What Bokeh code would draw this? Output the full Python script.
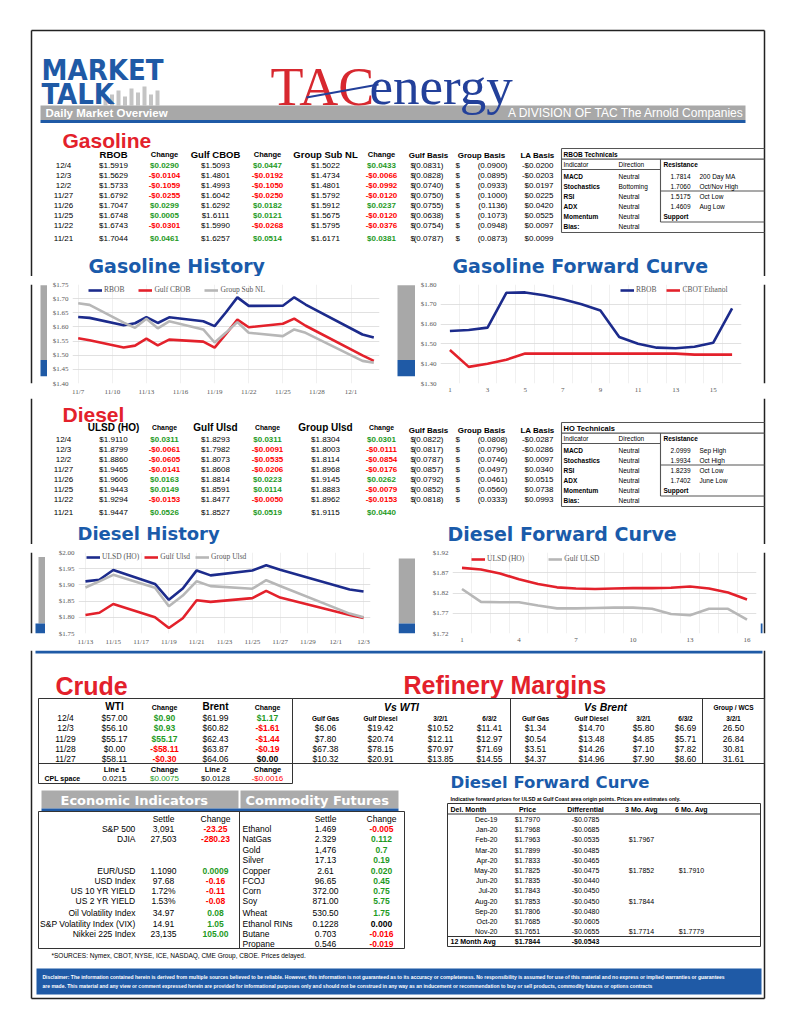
import numpy as np
import pandas as pd
from bokeh.plotting import figure
from bokeh.models import Range1d, ColumnDataSource, FixedTicker, NumeralTickFormatter
from bokeh.layouts import column, row
from bokeh.embed import file_html
from bokeh.resources import INLINE
from bokeh.core.properties import value

# ======================= DATA =======================
YEAR = 2019
GAS_DATES = ["12/4", "12/3", "12/2", "11/27", "11/26", "11/25", "11/22", "11/21"]
RBOB = [1.5919, 1.5629, 1.5733, 1.6792, 1.7047, 1.6748, 1.6743, 1.7044]
RBOB_CHG = [0.0290, -0.0104, -0.1059, -0.0255, 0.0299, 0.0005, -0.0301, 0.0461]
GULF_CBOB = [1.5093, 1.4801, 1.4993, 1.6042, 1.6292, 1.6111, 1.5990, 1.6257]
GULF_CBOB_CHG = [0.0447, -0.0192, -0.1050, -0.0250, 0.0182, 0.0121, -0.0268, 0.0514]
GROUP_SUB = [1.5022, 1.4734, 1.4801, 1.5792, 1.5912, 1.5675, 1.5795, 1.6171]
GROUP_SUB_CHG = [0.0433, -0.0066, -0.0992, -0.0120, 0.0237, -0.0120, -0.0376, 0.0381]
GAS_GULF_BASIS = [-0.0831, -0.0828, -0.0740, -0.0750, -0.0755, -0.0638, -0.0754, -0.0787]
GAS_GROUP_BASIS = [-0.0900, -0.0895, -0.0933, -0.1000, -0.1136, -0.1073, -0.0948, -0.0873]
GAS_LA_BASIS = [-0.0200, -0.0203, 0.0197, 0.0225, 0.0420, 0.0525, 0.0097, 0.0099]
GAS_HEADERS = ["RBOB", "Change", "Gulf CBOB", "Change", "Group Sub NL", "Change"]

DSL_DATES = ["12/4", "12/3", "12/2", "11/27", "11/26", "11/25", "11/22", "11/21"]
ULSD = [1.9110, 1.8799, 1.8860, 1.9465, 1.9606, 1.9443, 1.9294, 1.9447]
ULSD_CHG = [0.0311, -0.0061, -0.0605, -0.0141, 0.0163, 0.0149, -0.0153, 0.0526]
GULF_ULSD = [1.8293, 1.7982, 1.8073, 1.8608, 1.8814, 1.8591, 1.8477, 1.8527]
GULF_ULSD_CHG = [0.0311, -0.0091, -0.0535, -0.0206, 0.0223, 0.0114, -0.0050, 0.0519]
GROUP_ULSD = [1.8304, 1.8003, 1.8114, 1.8968, 1.9145, 1.8883, 1.8962, 1.9115]
GROUP_ULSD_CHG = [0.0301, -0.0111, -0.0854, -0.0176, 0.0262, -0.0079, -0.0153, 0.0440]
DSL_GULF_BASIS = [-0.0822, -0.0817, -0.0787, -0.0857, -0.0792, -0.0852, -0.0818]
DSL_GROUP_BASIS = [-0.0808, -0.0796, -0.0746, -0.0497, -0.0461, -0.0560, -0.0333]
DSL_LA_BASIS = [-0.0287, -0.0286, 0.0097, 0.0340, 0.0515, 0.0738, 0.0993]
DSL_HEADERS = ["ULSD (HO)", "Change", "Gulf Ulsd", "Change", "Group Ulsd", "Change"]

INDICATORS = ["MACD", "Stochastics", "RSI", "ADX", "Momentum", "Bias:"]
RBOB_DIRECTIONS = ["Neutral", "Bottoming", "Neutral", "Neutral", "Neutral", "Neutral"]
RBOB_LEVELS = [1.7814, 1.7060, 1.5175, 1.4609]
RBOB_LEVEL_NAMES = ["200 Day MA", "Oct/Nov High", "Oct Low", "Aug Low"]
HO_DIRECTIONS = ["Neutral", "Neutral", "Neutral", "Neutral", "Neutral", "Neutral"]
HO_LEVELS = [2.0999, 1.9934, 1.8239, 1.7402]
HO_LEVEL_NAMES = ["Sep High", "Oct High", "Oct Low", "June Low"]

# Gasoline history
GH_DATES = ["11/7", "11/8", "11/11", "11/12", "11/13", "11/14", "11/15", "11/18", "11/19",
            "11/20", "11/21", "11/22", "11/25", "11/26", "11/27", "12/2", "12/3"]
GH_RBOB = [1.635, 1.632, 1.606, 1.613, 1.635, 1.614, 1.634, 1.620, 1.603,
           1.652, 1.7044, 1.6743, 1.6748, 1.7047, 1.6792, 1.5733, 1.5629]
GH_CBOB = [1.560, 1.553, 1.527, 1.534, 1.559, 1.535, 1.555, 1.548, 1.527,
           1.575, 1.6257, 1.5990, 1.6111, 1.6292, 1.6042, 1.4993, 1.4801]
GH_SUBNL = [1.684, 1.678, 1.615, 1.597, 1.629, 1.595, 1.620, 1.591, 1.545,
            1.580, 1.6171, 1.5795, 1.5675, 1.5912, 1.5792, 1.4801, 1.4734]
GH_TICKS = ["11/7", "11/10", "11/13", "11/16", "11/19", "11/22", "11/25", "11/28", "12/1"]
GH_YTICKS = [1.40, 1.45, 1.50, 1.55, 1.60, 1.65, 1.70, 1.75]

# Gasoline forward curve
GF_MONTHS = list(range(1, 17))
GF_RBOB = [1.565, 1.570, 1.582, 1.758, 1.760, 1.746, 1.725, 1.700, 1.669, 1.535, 1.501,
           1.481, 1.478, 1.486, 1.506, 1.679]
GF_ETHANOL = [1.469, 1.384, 1.400, 1.420, 1.451, 1.451, 1.451, 1.451, 1.451, 1.451, 1.451,
              1.451, 1.451, 1.446, 1.446, 1.446]
GF_XTICKS = [1, 3, 5, 7, 9, 11, 13, 15]
GF_YTICKS = [1.30, 1.40, 1.50, 1.60, 1.70, 1.80]

# Diesel history
DH_DATES = ["11/13", "11/14", "11/15", "11/18", "11/19", "11/20", "11/21", "11/22",
            "11/25", "11/26", "11/27", "12/2", "12/3"]
DH_ULSD = [1.911, 1.916, 1.946, 1.903, 1.854, 1.889, 1.9447, 1.9294, 1.9443, 1.9606, 1.9465, 1.8860, 1.8799]
DH_GULF = [1.807, 1.814, 1.841, 1.800, 1.767, 1.797, 1.8527, 1.8477, 1.8591, 1.8814, 1.8608, 1.8073, 1.7982]
DH_GROUP = [1.892, 1.911, 1.931, 1.891, 1.834, 1.867, 1.9115, 1.8962, 1.8883, 1.9145, 1.8968, 1.8114, 1.8003]
DH_TICKS = ["11/13", "11/15", "11/17", "11/19", "11/21", "11/23", "11/25", "11/27", "11/29", "12/1", "12/3"]
DH_YTICKS = [1.75, 1.80, 1.85, 1.90, 1.95, 2.00]

# Diesel forward curve
DF_MONTHS = list(range(1, 17))
DF_ULSD = [1.882, 1.878, 1.868, 1.854, 1.842, 1.834, 1.831, 1.830, 1.831, 1.832, 1.832,
           1.833, 1.836, 1.831, 1.821, 1.804]
DF_GULF = [1.830, 1.798, 1.797, 1.797, 1.789, 1.782, 1.782, 1.783, 1.784, 1.784, 1.781,
           1.768, 1.765, 1.781, 1.781, 1.754]
DF_XTICKS = [1, 4, 7, 10, 13, 16]
DF_YTICKS = [1.72, 1.77, 1.82, 1.87, 1.92]

# Crude
CRUDE_DATES = ["12/4", "12/3", "11/29", "11/28", "11/27"]
WTI = [57.00, 56.10, 55.17, 0.00, 58.11]
WTI_CHG = [0.90, 0.93, 55.17, -58.11, -0.30]
BRENT = [61.99, 60.82, 62.43, 63.87, 64.06]
BRENT_CHG = [1.17, -1.61, -1.44, -0.19, 0.00]
CPL_LINE1, CPL_LINE1_CHG, CPL_LINE2, CPL_LINE2_CHG = 0.0215, 0.0075, 0.0128, -0.0016

# Refinery margins
MARGIN_COLS = ["Gulf Gas", "Gulf Diesel", "3/2/1", "6/3/2"]
WTI_GULF_GAS = [6.06, 7.80, 67.38, 10.32]
WTI_GULF_DIESEL = [19.42, 20.74, 78.15, 20.91]
WTI_321 = [10.52, 12.11, 70.97, 13.85]
WTI_632 = [11.41, 12.97, 71.69, 14.55]
BRENT_GULF_GAS = [1.34, 0.54, 3.51, 4.37]
BRENT_GULF_DIESEL = [14.70, 13.48, 14.26, 14.96]
BRENT_321 = [5.80, 4.85, 7.10, 7.90]
BRENT_632 = [6.69, 5.71, 7.82, 8.60]
WCS_321 = [26.50, 26.84, 30.81, 31.61]

# Economic indicators (12 row slots, blanks are empty rows)
ECON_LABELS = ["S&P 500", "DJIA", "", "", "EUR/USD", "USD Index", "US 10 YR YIELD", "US 2 YR YIELD",
               "Oil Volatility Index", "S&P Volatility Index (VIX)", "Nikkei 225 Index", ""]
ECON_SETTLE = ["3,091", "27,503", "", "", "1.1090", "97.68", "1.72%", "1.53%", "34.97", "14.91", "23,135", ""]
ECON_CHANGE = ["-23.25", "-280.23", "", "", "0.0009", "-0.16", "-0.11", "-0.08", "0.08", "1.05", "105.00", ""]
COMM_LABELS = ["Ethanol", "NatGas", "Gold", "Silver", "Copper", "FCOJ", "Corn", "Soy", "Wheat",
               "Ethanol RINs", "Butane", "Propane"]
COMM_SETTLE = ["1.469", "2.329", "1,476", "17.13", "2.61", "96.65", "372.00", "871.00", "530.50",
               "0.1228", "0.703", "0.546"]
COMM_CHANGE = ["-0.005", "0.112", "0.7", "0.19", "0.020", "0.45", "0.75", "5.75", "1.75",
               "0.000", "-0.016", "-0.019"]

# Diesel forward curve table
DFC_MONTHS = ["Dec-19", "Jan-20", "Feb-20", "Mar-20", "Apr-20", "May-20", "Jun-20", "Jul-20",
              "Aug-20", "Sep-20", "Oct-20", "Nov-20"]
DFC_PRICE = [1.7970, 1.7968, 1.7963, 1.7899, 1.7833, 1.7825, 1.7835, 1.7843, 1.7853, 1.7806, 1.7685, 1.7651]
DFC_DIFF = [-0.0785, -0.0685, -0.0535, -0.0485, -0.0465, -0.0475, -0.0440, -0.0450, -0.0450,
            -0.0480, -0.0605, -0.0655]
DFC_3MO = [None, None, 1.7967, None, None, 1.7852, None, None, 1.7844, None, None, 1.7714]
DFC_6MO = [None, None, None, None, None, 1.7910, None, None, None, None, None, 1.7779]
DFC_AVG_PRICE, DFC_AVG_DIFF = 1.7844, -0.0543

DISCLAIMER = [
    "Disclaimer: The information contained herein is derived from multiple sources believed to be reliable.  However, this information is not guaranteed as to its accuracy or completeness.  No responsibility is assumed for use of this material and no express or implied warranties or guarantees",
    "are made.  This material and any view or comment expressed herein are provided for informational purposes only and should not be construed in any way as an inducement or recommendation to buy or sell products, commodity futures or options contracts",
]

# ======================= STYLE =======================
SANS = "Liberation Sans"
SERIF = "Liberation Serif"
HEAVY = "DejaVu Sans"
COND = "DejaVu Sans Condensed"
NAVY = "#1C2B8C"
LRED = "#E3212B"
LGRAY = "#B7B7B7"
TITLE_BLUE = "#1A5BAA"
SECTION_RED = "#E3212B"
BAND_GRAY = "#A8A8A8"
BAND_BLUE = "#1F5AA6"
GREEN = "#1E9A1E"
RED = "#FF0000"
BORDER = "#333333"
PAGE_L, PAGE_R, PAGE_T, PAGE_B = 31, 764, 30, 998
W = 792


def money(v, d=4):
    s = f"${abs(v):.{d}f}"
    return "-" + s if v < 0 else s


def paren(v):
    return f"({abs(v):.4f})" if v < 0 else f"{v:.4f}"


def sign_color(v):
    return RED if v < 0 else (GREEN if v > 0 else "black")


def canvas(x0, x1, y0, y1):
    p = figure(width=int(x1 - x0), height=int(y1 - y0), x_range=Range1d(x0, x1),
               y_range=Range1d(y1, y0), x_axis_type=None, y_axis_type=None,
               toolbar_location=None, output_backend="svg", min_border=0,
               outline_line_color=None, background_fill_color="white", border_fill_color="white")
    return p


def txt(p, xs, ys, texts, size=8, color="black", align="left", style="normal", font=SANS,
        baseline="middle"):
    texts = list(texts) if isinstance(texts, (list, tuple)) else [texts]
    n = len(texts)

    def bc(v):
        return list(v) if isinstance(v, (list, tuple, np.ndarray)) else [v] * n
    src = ColumnDataSource(dict(x=bc(xs), y=bc(ys), text=texts, color=bc(color)))
    p.text(x="x", y="y", text="text", text_color="color", source=src, text_font=value(font),
           text_font_size=f"{size}px", text_align=align, text_baseline=baseline,
           text_font_style=style)


def segs(p, lines, color=BORDER, width=1.0):
    p.segment(x0=[l[0] for l in lines], y0=[l[1] for l in lines],
              x1=[l[2] for l in lines], y1=[l[3] for l in lines],
              line_color=color, line_width=width)


def box(p, l, r, t, b, fill, line=None):
    p.quad(left=[l], right=[r], top=[t], bottom=[b], fill_color=fill, line_color=line)


def outline(p, l, r, t, b, color=BORDER, width=1.0):
    segs(p, [(l, t, r, t), (l, b, r, b), (l, t, l, b), (r, t, r, b)], color, width)


def page_sides(p, y0, y1, left=True, right=True):
    lines = []
    if left:
        lines.append((PAGE_L, y0, PAGE_L, y1))
    if right:
        lines.append((PAGE_R, y0, PAGE_R, y1))
    segs(p, lines, color="#222222", width=1.5)


COLS_X = [113, 164, 215, 267, 325, 381]


def product_table(p, title, title_y, header_y, row0, headers, head_size, chg_size, dates,
                  vals, chgs, gulf_b, group_b, la_b, basis_y):
    txt(p, 62, title_y, title, size=21, color=SECTION_RED, style="bold")
    ys = [row0 + 10 * i for i in range(len(dates))]
    ys[-1] += 3
    for j, h in enumerate(headers):
        txt(p, COLS_X[j], header_y, h, size=head_size if j % 2 == 0 else chg_size,
            style="bold", align="center")
    txt(p, 63, ys, dates, size=8, align="center")
    for k in range(3):
        txt(p, COLS_X[2 * k], ys, [money(v) for v in vals[k]], size=8, align="center")
        txt(p, COLS_X[2 * k + 1], ys, [money(v) for v in chgs[k]], size=8, align="center",
            color=[sign_color(v) for v in chgs[k]], style="bold")
    by = ys[:len(gulf_b)]
    n = len(by)
    txt(p, [428, 481, 537], basis_y, ["Gulf Basis", "Group Basis", "LA Basis"], size=8,
        style="bold", align="center")
    txt(p, 410, by, ["$"] * n, size=8)
    txt(p, 443, by, [paren(v) for v in gulf_b], size=8, align="right")
    txt(p, 455, by, ["$"] * n, size=8)
    txt(p, 507, by, [paren(v) for v in group_b], size=8, align="right")
    txt(p, 553, by, [money(v) for v in la_b], size=8, align="right")


def technicals(p, top_y, title, title_size, directions, levels, names):
    L, R, M = 561, 764, 660
    t = top_y
    segs(p, [(L, t, R, t), (L, t + 10.6, R, t + 10.6), (L, t + 21, M, t + 21),
             (M, t + 10.6, M, t + 73.5), (M, t + 42.5, R, t + 42.5), (M, t + 73.5, R, t + 73.5),
             (L, t + 84, R, t + 84), (L, t, L, t + 84)], color="#555555", width=1.1)
    txt(p, 563, t + 5.6, title, size=title_size, style="bold")
    txt(p, [563, 618], t + 16.3, ["Indicator", "Direction"], size=6.5)
    txt(p, 663, t + 16.3, "Resistance", size=6.5, style="bold")
    rows = [t + 28 + 10 * i for i in range(6)]
    txt(p, 563, rows, INDICATORS, size=6.5, style="bold")
    txt(p, 618, rows, directions, size=6.5)
    txt(p, 690, rows[:4], [f"{v:.4f}" for v in levels], size=6.5, align="right")
    txt(p, 699, rows[:4], names, size=6.5)
    txt(p, 663, rows[4], "Support", size=6.5, style="bold")


def day_offsets(labels, start):
    base = pd.to_datetime(f"{YEAR}/{start}", format="%Y/%m/%d")
    return [int((pd.to_datetime(f"{YEAR}/{d}", format="%Y/%m/%d") - base).days) for d in labels]


def chart(width, height, xr, yr, borders):
    l, r, t, b = borders
    p = figure(width=width, height=height, x_range=Range1d(*xr), y_range=Range1d(*yr),
               toolbar_location=None, output_backend="svg",
               min_border_left=l, min_border_right=r, min_border_top=t, min_border_bottom=b,
               outline_line_color=None, border_fill_color="white", background_fill_color="white")
    p.axis.axis_line_color = None
    p.axis.major_tick_line_color = None
    p.axis.minor_tick_line_color = None
    p.axis.major_tick_out = 0
    p.axis.major_tick_in = 0
    p.axis.minor_tick_out = 0
    p.axis.minor_tick_in = 0
    p.axis.major_label_text_font = SERIF
    p.axis.major_label_text_font_size = "7px"
    p.axis.major_label_text_color = "#595959"
    p.axis.major_label_standoff = 4
    p.ygrid.grid_line_color = "#D9D9D9"
    p.ygrid.grid_line_width = 0.8
    p.xgrid.grid_line_color = "#F0F0F0"
    return p


def style_legend(p, loc, spacing):
    lg = p.legend[0]
    lg.orientation = "horizontal"
    lg.location = loc
    lg.label_text_font = SERIF
    lg.label_text_font_size = "7.5px"
    lg.label_text_color = "#595959"
    lg.glyph_width = 14
    lg.glyph_height = 8
    lg.label_height = 8
    lg.label_standoff = 2
    lg.spacing = spacing
    lg.padding = 2
    lg.margin = 0
    lg.background_fill_alpha = 0
    lg.border_line_color = None


def chart_title(p, x, y, text, size=19):
    txt(p, x, y, text, size=size, color=TITLE_BLUE, style="bold", font=HEAVY)


# ======================= TOP: header + gasoline table + chart titles =======================
top = canvas(0, W, 0, 276)
page_sides(top, PAGE_T, 276)
segs(top, [(PAGE_L, PAGE_T, PAGE_R, PAGE_T)], color="#222222", width=1.5)
for i, hgt in enumerate([7, 11, 15, 9, 17, 13, 19, 11, 15]):
    box(top, 103 + i * 6.5, 107 + i * 6.5, 105 - hgt, 105, "#C4C4C4")
txt(top, 41, 69.5, "MARKET", size=29, color=BAND_BLUE, style="bold", font=COND)
txt(top, 41, 93, "TALK", size=29, color=BAND_BLUE, style="bold", font=COND)
box(top, 40, 745, 105, 119.5, BAND_GRAY)
box(top, 40, 745, 119.5, 122.5, BAND_BLUE)
txt(top, 45, 112.5, "Daily Market Overview", size=11.5, color="white", style="bold")
txt(top, 744, 112.5, "A DIVISION OF TAC The Arnold Companies", size=12, color="white", align="right")
txt(top, 270, 86, "TAC", size=54, color="#D7282F", font=SERIF)
txt(top, 369, 85, "energy", size=53, color="#23409A", font=SERIF)
segs(top, [(306, 97, 378, 84)], color="#23409A", width=2)

product_table(top, "Gasoline", 139.5, 154, 165, GAS_HEADERS, 9.5, 7.5, GAS_DATES,
              [RBOB, GULF_CBOB, GROUP_SUB], [RBOB_CHG, GULF_CBOB_CHG, GROUP_SUB_CHG],
              GAS_GULF_BASIS, GAS_GROUP_BASIS, GAS_LA_BASIS, 154.5)
technicals(top, 148, "RBOB Technicals", 6.5, RBOB_DIRECTIONS, RBOB_LEVELS, RBOB_LEVEL_NAMES)
chart_title(top, 88, 265.5, "Gasoline History")
chart_title(top, 452, 265.5, "Gasoline Forward Curve")

# ======================= gasoline charts row (y 276..398) =======================
g_l = canvas(0, 47, 276, 398)
page_sides(g_l, 276, 398, right=False)
box(g_l, 40, 47, 277, 369, BAND_GRAY)
box(g_l, 40, 47, 369, 389, BAND_BLUE)

gx = day_offsets(GH_DATES, GH_DATES[0])
gtick = day_offsets(GH_TICKS, GH_DATES[0])
c1 = chart(348, 122, (-0.5, 26.5), (1.40, 1.75), (25, 16, 7, 15))
c1.line(gx, GH_RBOB, line_color=NAVY, line_width=2.6, legend_label="RBOB")
c1.line(gx, GH_CBOB, line_color=LRED, line_width=2.6, legend_label="Gulf CBOB")
c1.line(gx, GH_SUBNL, line_color=LGRAY, line_width=2.6, legend_label="Group Sub NL")
c1.xaxis.ticker = FixedTicker(ticks=gtick)
c1.xaxis.major_label_overrides = {t: lab for t, lab in zip(gtick, GH_TICKS)}
c1.xgrid.ticker = FixedTicker(ticks=gtick)
c1.yaxis.ticker = FixedTicker(ticks=GH_YTICKS)
c1.yaxis.formatter = NumeralTickFormatter(format="$0.00")
style_legend(c1, (16, 89), 14)

g_m = canvas(395, 415, 276, 398)
box(g_m, 397, 415, 277, 369, BAND_GRAY)
box(g_m, 397, 415, 369, 389, BAND_BLUE)

c2 = chart(342, 122, (0.5, 16.5), (1.30, 1.80), (25, 16, 8, 14))
c2.line(GF_MONTHS, GF_RBOB, line_color=NAVY, line_width=2.6, legend_label="RBOB")
c2.line(GF_MONTHS, GF_ETHANOL, line_color=LRED, line_width=2.6, legend_label="CBOT Ethanol")
c2.xaxis.ticker = FixedTicker(ticks=GF_XTICKS)
c2.xgrid.ticker = FixedTicker(ticks=[m + 0.5 for m in GF_MONTHS[:-1]])
c2.yaxis.ticker = FixedTicker(ticks=GF_YTICKS)
c2.yaxis.formatter = NumeralTickFormatter(format="$0.00")
style_legend(c2, (180, 89), 10)

g_r = canvas(757, W, 276, 398)
page_sides(g_r, 276, 398, left=False)

# ======================= MID: diesel table + chart titles (y 398..544) =======================
mid = canvas(0, W, 398, 544)
page_sides(mid, 398, 544)
product_table(mid, "Diesel", 413.5, 427, 439, DSL_HEADERS, 10, 6.8, DSL_DATES,
              [ULSD, GULF_ULSD, GROUP_ULSD], [ULSD_CHG, GULF_ULSD_CHG, GROUP_ULSD_CHG],
              DSL_GULF_BASIS, DSL_GROUP_BASIS, DSL_LA_BASIS, 429.5)
technicals(mid, 422, "HO Technicals", 7.5, HO_DIRECTIONS, HO_LEVELS, HO_LEVEL_NAMES)
chart_title(mid, 77, 533, "Diesel History", 18)
chart_title(mid, 447, 533.5, "Diesel Forward Curve")

# ======================= diesel charts row (y 544..650) =======================
d_l = canvas(0, 45, 544, 650)
page_sides(d_l, 544, 650, right=False)
box(d_l, 38, 45, 550, 637, BAND_GRAY)
box(d_l, 35, 45, 637, 650, BAND_BLUE)

dx = day_offsets(DH_DATES, DH_DATES[0])
dtick = day_offsets(DH_TICKS, DH_DATES[0])
c3 = chart(353, 106, (-0.5, 20.5), (1.75, 2.00), (33, 28, 5, 17))
c3.line(dx, DH_ULSD, line_color=NAVY, line_width=2.6, legend_label="ULSD (HO)")
c3.line(dx, DH_GULF, line_color=LRED, line_width=2.6, legend_label="Gulf Ulsd")
c3.line(dx, DH_GROUP, line_color=LGRAY, line_width=2.6, legend_label="Group Ulsd")
c3.xaxis.ticker = FixedTicker(ticks=dtick)
c3.xaxis.major_label_overrides = {t: lab for t, lab in zip(dtick, DH_TICKS)}
c3.xgrid.ticker = FixedTicker(ticks=dtick)
c3.yaxis.ticker = FixedTicker(ticks=DH_YTICKS)
c3.yaxis.formatter = NumeralTickFormatter(format="$0.00")
style_legend(c3, (8, 72), 5)

d_m = canvas(398, 415, 544, 650)
box(d_m, 398, 415, 552, 637, BAND_GRAY)
box(d_m, 398, 415, 637, 650, BAND_BLUE)

c4 = chart(345, 106, (0.5, 16.5), (1.72, 1.92), (37, 4, 8, 16))
c4.line(DF_MONTHS, DF_ULSD, line_color=LRED, line_width=2.6, legend_label="ULSD (HO)")
c4.line(DF_MONTHS, DF_GULF, line_color=LGRAY, line_width=2.6, legend_label="Gulf ULSD")
c4.xaxis.ticker = FixedTicker(ticks=DF_XTICKS)
c4.xgrid.ticker = FixedTicker(ticks=[m + 0.5 for m in DF_MONTHS[:-1]])
c4.yaxis.ticker = FixedTicker(ticks=DF_YTICKS)
c4.yaxis.formatter = NumeralTickFormatter(format="$0.00")
style_legend(c4, (19, 70), 24)

d_r = canvas(760, W, 544, 650)
page_sides(d_r, 544, 650, left=False)
box(d_r, 760, 762, 637, 650, BAND_BLUE)

# ======================= BOTTOM (y 650..1016) =======================
bot = canvas(0, W, 650, 1016)
page_sides(bot, 650, PAGE_B)
segs(bot, [(PAGE_L, PAGE_B, PAGE_R, PAGE_B)], color="#222222", width=1.5)
box(bot, 35, 762, 650, 653, BAND_BLUE)

# --- Crude ---
txt(bot, 55, 685, "Crude", size=25, color=SECTION_RED, style="bold")
outline(bot, 38, 292, 698, 783)
segs(bot, [(38, 763, 292, 763)])
CR_X = [114, 164, 215, 267]
txt(bot, [CR_X[0], CR_X[2]], 706, ["WTI", "Brent"], size=10, style="bold", align="center")
txt(bot, [CR_X[1], CR_X[3]], 707, ["Change", "Change"], size=7, style="bold", align="center")
cy = [717, 727.5, 738, 748, 758]
txt(bot, 65, cy, CRUDE_DATES, size=8.5, align="center")
txt(bot, CR_X[0], cy, [money(v, 2) for v in WTI], size=8.5, align="center")
txt(bot, CR_X[1], cy, [money(v, 2) for v in WTI_CHG], size=8.5, align="center", style="bold",
    color=[sign_color(v) for v in WTI_CHG])
txt(bot, CR_X[2], cy, [money(v, 2) for v in BRENT], size=8.5, align="center")
txt(bot, CR_X[3], cy, [money(v, 2) for v in BRENT_CHG], size=8.5, align="center", style="bold",
    color=[sign_color(v) for v in BRENT_CHG])
txt(bot, CR_X, 768.5, ["Line 1", "Change", "Line 2", "Change"], size=7.5, style="bold", align="center")
txt(bot, 44, 777.5, "CPL space", size=7, style="bold")
txt(bot, CR_X, 777.5, [f"{CPL_LINE1:.4f}", money(CPL_LINE1_CHG), money(CPL_LINE2), money(CPL_LINE2_CHG)],
    size=8, align="center",
    color=["black", sign_color(CPL_LINE1_CHG), "black", sign_color(CPL_LINE2_CHG)])

# --- Refinery margins ---
txt(bot, 403, 684.5, "Refinery Margins", size=25, color=SECTION_RED, style="bold")
outline(bot, 292, 764, 698, 763)
segs(bot, [(510, 698, 510, 763), (702, 698, 702, 763)])
txt(bot, [401, 605], 706, ["Vs WTI", "Vs Brent"], size=10.5, style="bold italic", align="center")
txt(bot, 733, 707, "Group / WCS", size=6.5, style="bold", align="center")
WTI_X = [325, 380, 440, 489]
BR_X = [535, 591, 643, 685]
txt(bot, WTI_X + BR_X + [733], 717.5, MARGIN_COLS + MARGIN_COLS + ["3/2/1"], size=6.5,
    style="bold", align="center")
ry = [727.5, 738, 748, 758]
for xcol, vals in zip(WTI_X + BR_X, [WTI_GULF_GAS, WTI_GULF_DIESEL, WTI_321, WTI_632,
                                     BRENT_GULF_GAS, BRENT_GULF_DIESEL, BRENT_321, BRENT_632]):
    txt(bot, xcol, ry, [money(v, 2) for v in vals], size=8.5, align="center")
txt(bot, 733, ry, [f"{v:.2f}" for v in WCS_321], size=8.5, align="center")

# --- Economic indicators / commodity futures ---
box(bot, 41, 238, 790, 808, "#ABABAB")
box(bot, 240, 398, 790, 808, "#ABABAB")
box(bot, 41, 398, 808, 811, BAND_BLUE)
txt(bot, 60, 799.5, "Economic Indicators", size=13, color="white", style="bold", font=HEAVY)
txt(bot, 245, 799.5, "Commodity Futures", size=13, color="white", style="bold", font=HEAVY)
outline(bot, 38, 239, 811, 948)
outline(bot, 239, 404, 811, 948)
txt(bot, [163, 215, 325, 381], 818.5, ["Settle", "Change", "Settle", "Change"], size=8.5, align="center")
ey = [828, 838, 849, 859, 870, 880, 890, 900, 912, 923, 933, 943]


def chg_col(s):
    if s == "":
        return "black"
    return sign_color(float(s))


txt(bot, 135, ey, ECON_LABELS, size=8.5, align="right")
txt(bot, 163, ey, ECON_SETTLE, size=8.5, align="center")
txt(bot, 215, ey, ECON_CHANGE, size=8.5, align="center", style="bold", color=[chg_col(s) for s in ECON_CHANGE])
txt(bot, 242, ey, COMM_LABELS, size=8.5)
txt(bot, 325, ey, COMM_SETTLE, size=8.5, align="center")
txt(bot, 381, ey, COMM_CHANGE, size=8.5, align="center", style="bold", color=[chg_col(s) for s in COMM_CHANGE])
txt(bot, 51, 954.5, "*SOURCES: Nymex, CBOT, NYSE, ICE, NASDAQ, CME Group, CBOE.   Prices delayed.", size=6.5)

# --- Diesel forward curve table ---
txt(bot, 450, 781.5, "Diesel Forward Curve", size=16.5, color=TITLE_BLUE, style="bold", font=HEAVY)
txt(bot, 450, 798, "Indicative forward prices for ULSD at Gulf Coast area origin points.  Prices are estimates only.",
    size=5.2, style="bold")
outline(bot, 447, 760, 803, 946)
segs(bot, [(447, 813.5, 760, 813.5), (447, 936, 760, 936)])
txt(bot, 450, 808.5, "Del. Month", size=7, style="bold")
txt(bot, [527, 585, 641, 691], 808.5, ["Price", "Differential", "3 Mo. Avg", "6 Mo. Avg"], size=7,
    style="bold", align="center")
fy = [819 + 10.2 * i for i in range(len(DFC_MONTHS))]
txt(bot, 497, fy, DFC_MONTHS, size=7, align="right")
txt(bot, 527, fy, [money(v) for v in DFC_PRICE], size=7, align="center")
txt(bot, 585, fy, [money(v) for v in DFC_DIFF], size=7, align="center")
txt(bot, 641, fy, [money(v) if v is not None else "" for v in DFC_3MO], size=7, align="center")
txt(bot, 691, fy, [money(v) if v is not None else "" for v in DFC_6MO], size=7, align="center")
txt(bot, 450, 941, "12 Month Avg", size=7, style="bold")
txt(bot, [527, 585], 941, [money(DFC_AVG_PRICE), money(DFC_AVG_DIFF)], size=7, style="bold", align="center")

# --- footer ---
box(bot, 36, 761, 968, 994, BAND_BLUE)
txt(bot, 42, [976.5, 985], DISCLAIMER, size=5, color="white", style="bold")

layout = column(top,
                row(g_l, c1, g_m, c2, g_r),
                mid,
                row(d_l, c3, d_m, c4, d_r),
                bot)

with open("out.html", "w") as f:
    f.write(file_html(layout, INLINE))
